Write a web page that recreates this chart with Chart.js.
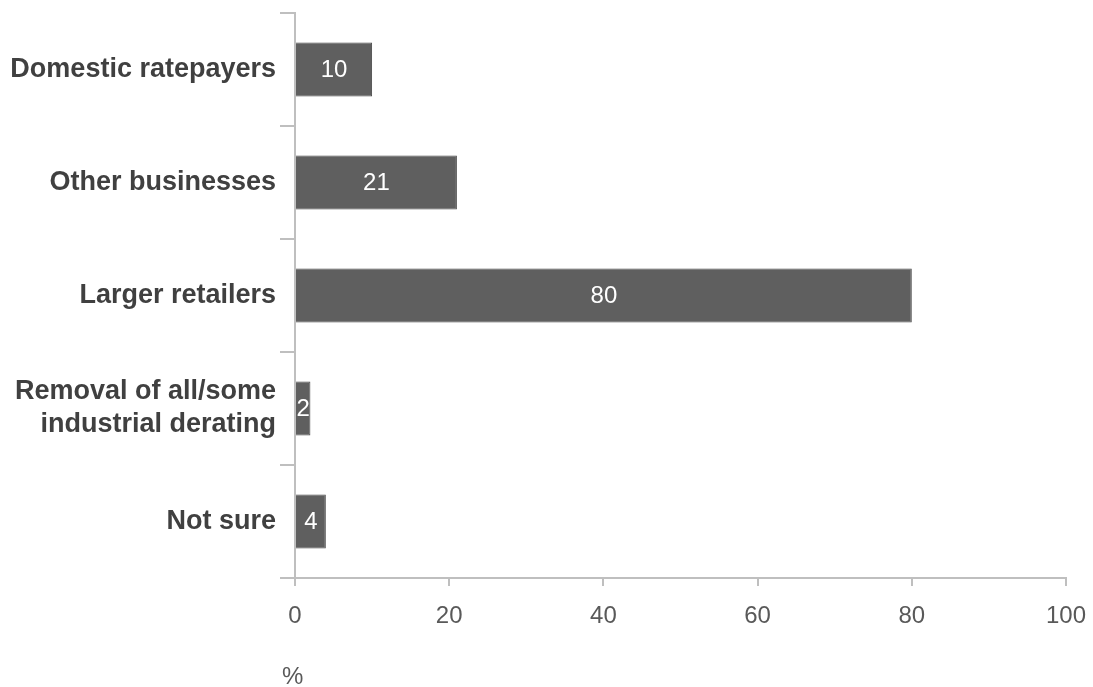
<!DOCTYPE html>
<html>
<head>
<meta charset="utf-8">
<script src="https://cdn.jsdelivr.net/npm/chart.js@4/dist/chart.umd.min.js"></script>
<style>
  html, body { margin: 0; padding: 0; background: #fff; }
  #wrap { width: 1093px; height: 687px; }
</style>
</head>
<body>
<div id="wrap"><canvas id="barChart" width="1093" height="687"></canvas></div>
<script>
var categories = [
    'Domestic ratepayers',
    'Other businesses',
    'Larger retailers',
    ['Removal of all/some', 'industrial derating'],
    'Not sure'
];
var values = [10, 21, 80, 2, 4];
var xTicks = [0, 20, 40, 60, 80, 100];
var unitLabel = '%';

var FONT = '"Liberation Sans", Arial, sans-serif';

// value in the middle of each bar, plus the "%" unit under the axis
var barLabels = {
    id: 'barLabels',
    afterDatasetsDraw: function(chart) {
        var ctx = chart.ctx;
        var meta = chart.getDatasetMeta(0);
        ctx.save();
        ctx.fillStyle = '#ffffff';
        ctx.font = '24px ' + FONT;
        ctx.textAlign = 'center';
        ctx.textBaseline = 'middle';
        meta.data.forEach(function(bar, i) {
            var cx = (bar.x + bar.base) / 2;
            ctx.fillText(String(values[i]), cx, bar.y + 1);
        });
        var xs = chart.scales.x;
        ctx.fillStyle = '#595959';
        ctx.textAlign = 'left';
        ctx.textBaseline = 'alphabetic';
        ctx.fillText(unitLabel, xs.left - 13, xs.bottom - 3);
        ctx.restore();
    }
};

var ctx = document.getElementById('barChart').getContext('2d');
var barChart = new Chart(ctx, {
    type: 'bar',
    data: {
        labels: categories,
        datasets: [{
            data: values,
            backgroundColor: '#5f5f5f',
            borderColor: '#4a4a4a',
            borderWidth: 1,
            categoryPercentage: 1,
            barPercentage: 0.48
        }]
    },
    options: {
        indexAxis: 'y',
        responsive: false,
        animation: false,
        layout: { padding: { top: 13, right: 27, left: 0, bottom: 0 } },
        plugins: { legend: { display: false }, tooltip: { enabled: false } },
        scales: {
            x: {
                min: 0,
                max: 100,
                afterBuildTicks: function(axis) {
                    axis.ticks = xTicks.map(function(v) { return { value: v }; });
                },
                afterFit: function(axis) {
                    axis.height = 109;
                    axis.paddingLeft = 0;
                    axis.paddingRight = 0;
                },
                border: { color: '#bfbfbf', width: 2 },
                grid: { drawOnChartArea: false, tickLength: 8, color: '#bfbfbf', lineWidth: 2 },
                ticks: { color: '#595959', padding: 16, font: { family: FONT, size: 24 } }
            },
            y: {
                afterFit: function(axis) {
                    axis.width = 295;
                    axis.paddingTop = 0;
                    axis.paddingBottom = 0;
                },
                border: { color: '#bfbfbf', width: 2 },
                grid: { offset: true, drawOnChartArea: false, tickLength: 15, color: '#bfbfbf', lineWidth: 2 },
                ticks: {
                    color: '#404040',
                    padding: 4,
                    font: { family: FONT, size: 27, weight: 'bold', lineHeight: 1.22 }
                }
            }
        }
    },
    plugins: [barLabels]
});
</script>
</body>
</html>
